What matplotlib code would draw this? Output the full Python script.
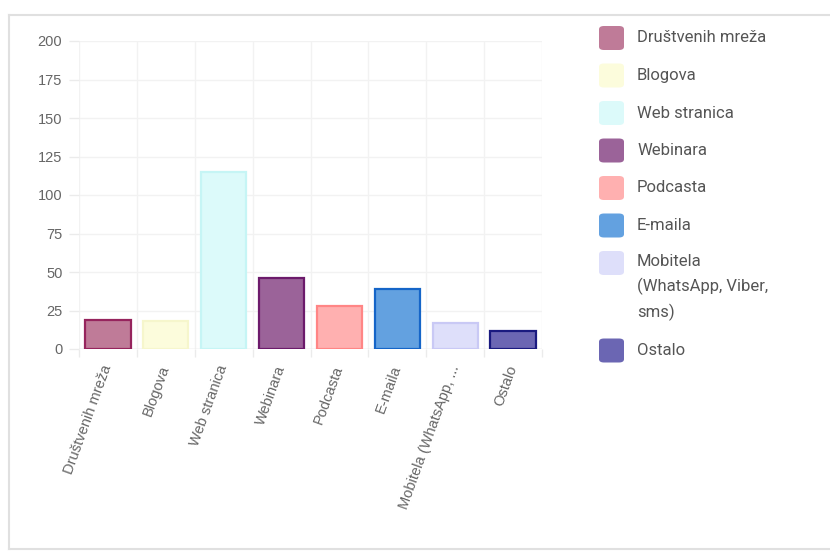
import numpy as np
import matplotlib.pyplot as plt
from matplotlib.lines import Line2D
from matplotlib.patches import FancyBboxPatch

# data
categories = ["Društvenih mreža", "Blogova", "Web stranica", "Webinara",
              "Podcasta", "E-maila", "Mobitela (WhatsApp, Viber, sms)", "Ostalo"]
tick_labels = ["Društvenih mreža", "Blogova", "Web stranica", "Webinara",
               "Podcasta", "E-maila", "Mobitela (WhatsApp, ...", "Ostalo"]
legend_labels = ["Društvenih mreža", "Blogova", "Web stranica", "Webinara",
                 "Podcasta", "E-maila", "Mobitela\n(WhatsApp, Viber,\nsms)", "Ostalo"]
values = [19, 18, 115, 46, 28, 39, 17, 12]
y_ticks = [0, 25, 50, 75, 100, 125, 150, 175, 200]

fill_colors = ["#bf7b98", "#fcfcdc", "#dcfafa", "#9b6399",
               "#ffb0b0", "#63a1e0", "#dedffa", "#6b66b3"]
edge_colors = ["#96245d", "#f6f6cc", "#c6f5f5", "#6c1a6b",
               "#ff8585", "#1565c8", "#c9c9f5", "#1a1a80"]

W, H = 830, 554
fig = plt.figure(figsize=(W / 100, H / 100), dpi=100)

# chart area
ax = fig.add_axes([79 / W, 1 - 349 / H, (542 - 79) / W, (349 - 41) / H])
x = np.arange(len(categories))
ax.bar(x, values, width=0.78, color=fill_colors, edgecolor=edge_colors,
       linewidth=1.6, zorder=3)

ax.set_xlim(-0.5, len(categories) - 0.5)
ax.set_ylim(0, 200)
ax.set_yticks(y_ticks)
ax.set_yticklabels([str(v) for v in y_ticks], fontsize=10.5, color="#666666",
                   family="Liberation Sans")
ax.set_xticks(x)
ax.set_xticklabels(tick_labels, rotation=70, ha="right", va="center",
                   rotation_mode="anchor", fontsize=10.5, color="#666666",
                   family="Liberation Sans")
ax.set_xticks(np.arange(len(categories) + 1) - 0.5, minor=True)

ax.tick_params(axis="x", which="major", length=0, pad=12)
ax.tick_params(axis="x", which="minor", length=6, color="#ebebeb", width=1)
ax.tick_params(axis="y", length=7, color="#ebebeb", width=1, pad=5)

ax.grid(True, axis="y", which="major", color="#f2f2f2", linewidth=1, zorder=0)
ax.grid(True, axis="x", which="minor", color="#f2f2f2", linewidth=1, zorder=0)
for s in ax.spines.values():
    s.set_visible(False)
ax.axhline(0, color="#e3e3e3", linewidth=1, zorder=2)

# legend drawn on the right
y_px = 38
for i, lab in enumerate(legend_labels):
    nlines = lab.count("\n")
    sq = FancyBboxPatch((599 / W, 1 - (y_px + 12) / H), 25 / W, 24 / H,
                        boxstyle="round,pad=0,rounding_size=0.006",
                        transform=fig.transFigure, facecolor=fill_colors[i],
                        edgecolor="none")
    fig.add_artist(sq)
    if nlines:
        fig.text(637 / W, 1 - (y_px - 9) / H, lab, fontsize=12, color="#555555",
                 family="Roboto", va="top", linespacing=1.65)
    else:
        fig.text(637 / W, 1 - y_px / H, lab, fontsize=12, color="#555555",
                 family="Roboto", va="center")
    y_px += 37.5 + 25 * nlines

# frame
fig.add_artist(Line2D([8.5 / W, 8.5 / W], [1 - 15 / H, 1 - 549 / H],
                      color="#e0e0e0", linewidth=1.5, transform=fig.transFigure))
fig.add_artist(Line2D([8.5 / W, 1], [1 - 15 / H, 1 - 15 / H],
                      color="#e0e0e0", linewidth=1.5, transform=fig.transFigure))
fig.add_artist(Line2D([8.5 / W, 1], [1 - 549 / H, 1 - 549 / H],
                      color="#e0e0e0", linewidth=1.5, transform=fig.transFigure))

fig.savefig("out.png", dpi=100)
